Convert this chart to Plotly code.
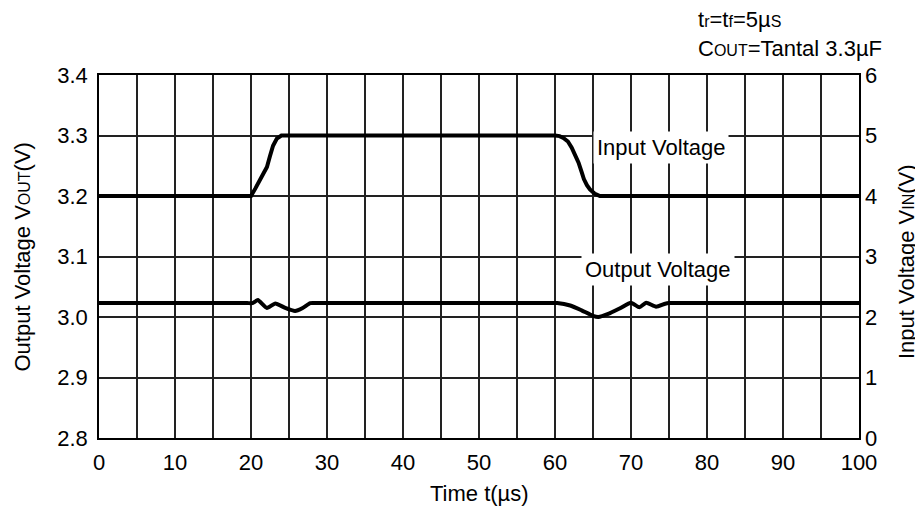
import plotly.graph_objects as go

# Tiempo en microsegundos
t_in = [0, 20, 20.6, 21.2, 21.7, 22.1, 22.5, 22.9, 23.4, 24, 60, 60.6, 61.1, 61.7, 62.2, 62.7,
        63.1, 63.5, 63.8, 64.2, 64.6, 65.2, 65.9, 100]
v_in = [4, 4, 4.13, 4.28, 4.38, 4.48, 4.66, 4.83, 4.95, 5.0, 5.0, 4.99, 4.96, 4.9, 4.8, 4.68,
        4.55, 4.4, 4.28, 4.18, 4.11, 4.04, 4.0, 4.0]

t_out = [0, 10, 19.5, 20.2, 20.9, 22.1, 23.2, 24.5, 25.8, 26.8, 27.8, 28.8, 45, 59.5, 60.3, 62,
         63.5, 65, 65.7, 67, 68.5, 70, 71.1, 72, 73.3, 74.5, 75, 76, 90, 100]
v_out = [3.023, 3.023, 3.023, 3.023, 3.028, 3.015, 3.0225, 3.015, 3.010, 3.015, 3.023, 3.023,
         3.023, 3.023, 3.023, 3.019, 3.011, 3.002, 3.000, 3.005, 3.014, 3.0235, 3.016, 3.0235,
         3.017, 3.022, 3.023, 3.023, 3.023, 3.023]

x_ticks = [0, 10, 20, 30, 40, 50, 60, 70, 80, 90, 100]
y_ticks = [2.8, 2.9, 3.0, 3.1, 3.2, 3.3, 3.4]
y2_ticks = [0, 1, 2, 3, 4, 5, 6]

FONT = "Liberation Sans, Arial, sans-serif"
SMALL = "<span style='font-size:16px'>{}</span>"

# La pagina tiene 8px de margen en el body: se compensa aqui
OFF = 8
W, H = 923 - OFF, 518 - OFF
L, T = 99 - OFF, 75 - OFF
R, B = W - (859 - OFF), H - (438 - OFF)
PW, PH = W - L - R, H - T - B


def px_x(x):
    # coordenada de pantalla -> paper
    return (x - OFF - L) / PW


def px_y(y):
    return (H - B - (y - OFF)) / PH


fig = go.Figure()
fig.add_trace(go.Scatter(x=t_out, y=v_out, mode="lines",
                         line=dict(color="black", width=4, shape="spline", smoothing=0.5),
                         showlegend=False))
fig.add_trace(go.Scatter(x=t_in, y=v_in, mode="lines", yaxis="y2",
                         line=dict(color="black", width=4), showlegend=False))

grid = dict(showgrid=True, gridcolor="#222", gridwidth=1.5, zeroline=False, ticks="",
            showline=True, linecolor="black", linewidth=1.5, mirror=True)

fig.update_layout(
    width=W, height=H,
    margin=dict(l=L, r=R, t=T, b=B),
    plot_bgcolor="white", paper_bgcolor="white",
    font=dict(family=FONT, size=22, color="black"),
    xaxis=dict(range=[0, 100], tickvals=x_ticks, ticklabelstandoff=4,
               minor=dict(dtick=5, showgrid=True, gridcolor="#222", gridwidth=1.5), **grid),
    yaxis=dict(range=[2.8, 3.4], tickvals=y_ticks, tickformat=".1f", ticklabelstandoff=5, **grid),
    yaxis2=dict(range=[0, 6], tickvals=y2_ticks, overlaying="y", side="right", showgrid=False,
                zeroline=False, ticks="", ticklabelstandoff=5),
)

# Titulos de ejes
fig.add_annotation(x=px_x(22.5), y=px_y(257), xref="paper", yref="paper", showarrow=False,
                   textangle=-90, xanchor="center", yanchor="middle",
                   text="Output Voltage V" + SMALL.format("OUT") + "(V)")
fig.add_annotation(x=px_x(906), y=px_y(262), xref="paper", yref="paper", showarrow=False,
                   textangle=-90, xanchor="center", yanchor="middle",
                   text="Input Voltage V" + SMALL.format("IN") + "(V)")
fig.add_annotation(x=0.5, y=px_y(493), xref="paper", yref="paper", showarrow=False,
                   xanchor="center", yanchor="middle", text="Time t(µs)")

# Etiquetas de curvas
fig.add_annotation(x=73.95, y=4.81, yref="y2", text="Input Voltage", showarrow=False,
                   bgcolor="white", borderpad=3)
fig.add_annotation(x=73.5, y=2.79, yref="y2", text="Output Voltage", showarrow=False,
                   bgcolor="white", borderpad=3)

# Condiciones de prueba
fig.add_annotation(x=px_x(884), y=px_y(34), xref="paper", yref="paper", showarrow=False,
                   xanchor="right", yanchor="middle", align="left",
                   text="t" + SMALL.format("r") + "=t" + SMALL.format("f") + "=5µ" + SMALL.format("S")
                   + "<br>C" + SMALL.format("OUT") + "=Tantal 3.3µF")

fig.write_html("out.html")
